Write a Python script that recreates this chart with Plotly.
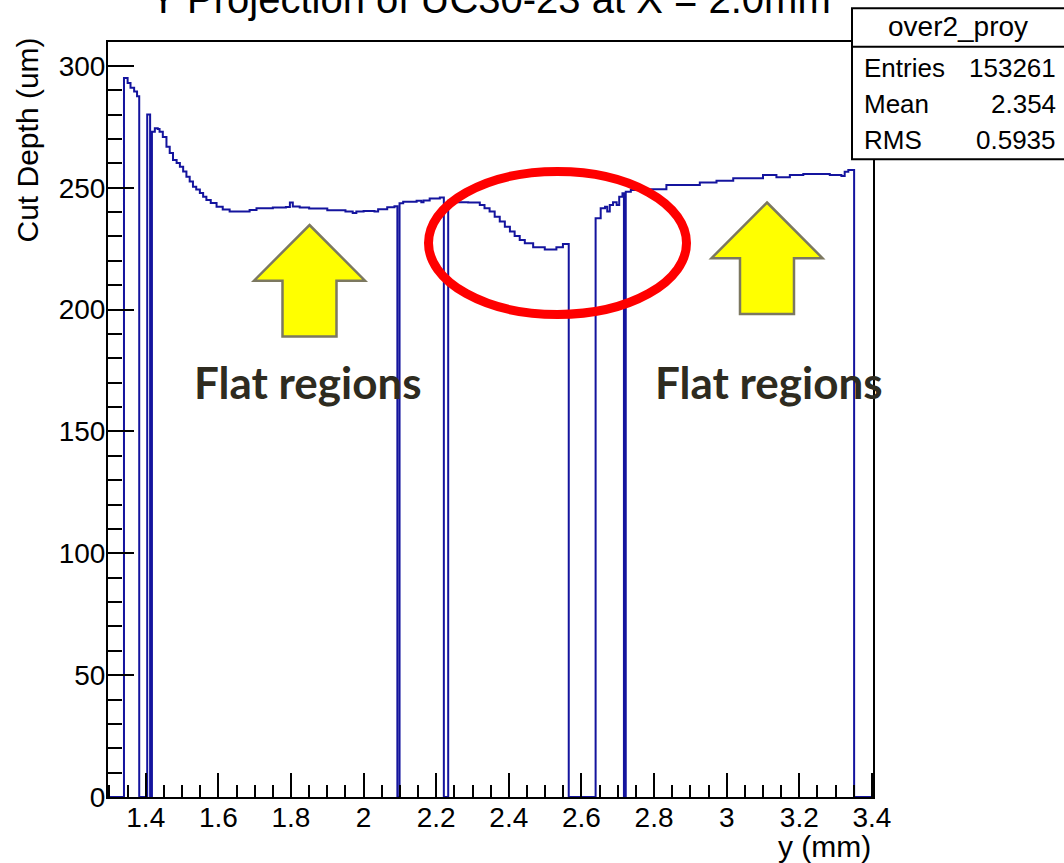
import plotly.graph_objects as go

# ---- data ----
y_mm = [1.296, 1.340, 1.350, 1.358, 1.368, 1.376, 1.382, 1.404, 1.412, 1.417,
        1.425, 1.433, 1.438, 1.447, 1.457, 1.466, 1.475, 1.485, 1.494, 1.503,
        1.512, 1.521, 1.530, 1.539, 1.549, 1.558, 1.567, 1.579, 1.595, 1.612,
        1.631, 1.686, 1.705, 1.750, 1.786, 1.797, 1.805, 1.824, 1.850, 1.900,
        1.950, 1.970, 1.980, 2.000, 2.030, 2.040, 2.065, 2.085, 2.093, 2.099,
        2.109, 2.146, 2.159, 2.165, 2.182, 2.210, 2.221, 2.233, 2.256, 2.288,
        2.320, 2.333, 2.347, 2.361, 2.375, 2.389, 2.403, 2.416, 2.430, 2.444,
        2.467, 2.499, 2.531, 2.549, 2.565, 2.639, 2.653, 2.665, 2.671, 2.678,
        2.687, 2.697, 2.704, 2.713, 2.717, 2.722, 2.736, 2.785, 2.792, 2.834,
        2.880, 2.926, 2.972, 3.018, 3.063, 3.100, 3.137, 3.174, 3.211, 3.248,
        3.284, 3.316, 3.325, 3.335, 3.351, 3.403]
cut_depth_um = [0, 295, 293, 291, 289.5, 287.5, 0, 280, 0, 273,
                274.4, 274.1, 273, 270.8, 266.8, 264.3, 261.4, 260.2, 258.6, 256.7,
                254.5, 252.6, 250.4, 249.3, 247.8, 246.3, 245.0, 243.7, 242.2, 241.1,
                240.2, 240.9, 241.6, 241.9, 242.1, 243.9, 242.3, 241.9, 241.5, 240.8,
                240.2, 239.6, 240.2, 240.5, 240.3, 241.2, 242.0, 242.4, 0, 243.6,
                244.2, 244.7, 244.0, 244.8, 245.6, 246.0, 0, 244.7, 244.0, 243.9,
                242.9, 241.6, 240.2, 238.1, 236.1, 234.0, 232.0, 230.2, 228.6, 227.2,
                225.6, 224.7, 225.6, 226.9, 0, 237.5, 241.6, 242.2, 240.2, 242.9,
                244.0, 242.9, 246.3, 247.7, 0, 248.4, 249.1, 248.4, 249.4, 251.1,
                251.1, 252.1, 252.9, 253.9, 253.9, 255.2, 254.3, 255.2, 255.6, 255.6,
                255.2, 254.8, 256.6, 257.3, 0, 0]

x_tick_vals = [1.4, 1.6, 1.8, 2.0, 2.2, 2.4, 2.6, 2.8, 3.0, 3.2, 3.4]
x_tick_text = ["1.4", "1.6", "1.8", "2", "2.2", "2.4", "2.6", "2.8", "3", "3.2", "3.4"]
y_tick_vals = [0, 50, 100, 150, 200, 250, 300]
y_tick_text = ["0", "50", "100", "150", "200", "250", "300"]

title_text = "Y Projection of UC30-23 at X = 2.0mm"
x_title = "y (mm)"
y_title = "Cut Depth (um)"
stats_name = "over2_proy"
stats_labels = ["Entries", "Mean", "RMS"]
stats_values = ["153261", "2.354", "0.5935"]
note_text = "Flat regions"

# ---- layout geometry (pixels) ----
W, H = 1064, 863
L, R, T, B = 108, 873, 42, 797
FONT = "Liberation Sans, Arial, sans-serif"


def pxx(px):
    return (px - L) / (R - L)


def pxy(py):
    return (B - py) / (B - T)


fig = go.Figure()
fig.add_trace(go.Scatter(
    x=y_mm, y=cut_depth_um, mode="lines", line_shape="hv",
    line=dict(color="#14149e", width=2), hoverinfo="skip", showlegend=False,
))

shapes = []
# red ellipse
shapes.append(dict(type="circle", xref="paper", yref="paper",
                   x0=pxx(428.5), x1=pxx(686.5), y0=pxy(314.5), y1=pxy(171.5),
                   line=dict(color="#ff0000", width=9), layer="above"))


def arrow_path(tipx, tipy, half_head, half_shaft, head_h, total_h):
    pts = [(tipx, tipy), (tipx + half_head, tipy + head_h), (tipx + half_shaft, tipy + head_h),
           (tipx + half_shaft, tipy + total_h), (tipx - half_shaft, tipy + total_h),
           (tipx - half_shaft, tipy + head_h), (tipx - half_head, tipy + head_h)]
    d = "M " + " L ".join(f"{pxx(a):.5f},{pxy(b):.5f}" for a, b in pts) + " Z"
    return d


for tip in [(309.5, 225), (767, 202.5)]:
    shapes.append(dict(type="path", xref="paper", yref="paper",
                       path=arrow_path(tip[0], tip[1], 55.5, 27, 55.7, 111.5),
                       fillcolor="#ffff00", line=dict(color="#7c7860", width=2.5),
                       layer="above"))

# stats box
shapes.append(dict(type="rect", xref="paper", yref="paper",
                   x0=pxx(852), x1=pxx(1080), y0=pxy(159.3), y1=pxy(8.3),
                   fillcolor="white", line=dict(color="black", width=2), layer="above"))
shapes.append(dict(type="line", xref="paper", yref="paper",
                   x0=pxx(852), x1=pxx(1080), y0=pxy(46.7), y1=pxy(46.7),
                   line=dict(color="black", width=2), layer="above"))

ann = []
ann.append(dict(text=title_text, xref="paper", yref="paper", x=pxx(490), y=pxy(-1),
                xanchor="center", yanchor="middle", showarrow=False,
                font=dict(family=FONT, size=40, color="black")))
ann.append(dict(text=x_title, xref="paper", yref="paper", x=pxx(873), y=pxy(846),
                xanchor="right", yanchor="middle", showarrow=False,
                font=dict(family=FONT, size=30, color="black")))
ann.append(dict(text=y_title, xref="paper", yref="paper", x=pxx(27), y=pxy(36),
                xanchor="center", yanchor="top", textangle=-90, showarrow=False,
                font=dict(family=FONT, size=30, color="black")))
ann.append(dict(text=stats_name, xref="paper", yref="paper", x=pxx(958), y=pxy(27),
                xanchor="center", yanchor="middle", showarrow=False,
                font=dict(family=FONT, size=28, color="black")))
for i, (lab, val) in enumerate(zip(stats_labels, stats_values)):
    yy = [68.3, 103.5, 140][i]
    ann.append(dict(text=lab, xref="paper", yref="paper", x=pxx(862), y=pxy(yy),
                    xanchor="left", yanchor="middle", showarrow=False,
                    font=dict(family=FONT, size=26, color="black")))
    ann.append(dict(text=val, xref="paper", yref="paper", x=pxx(1058), y=pxy(yy),
                    xanchor="right", yanchor="middle", showarrow=False,
                    font=dict(family=FONT, size=26, color="black")))
for cx in [308, 768.5]:
    ann.append(dict(text="<b>" + note_text + "</b>", xref="paper", yref="paper",
                    x=pxx(cx), y=pxy(382), xanchor="center", yanchor="middle",
                    showarrow=False,
                    font=dict(family="Lato, Liberation Sans, sans-serif", size=44,
                              color="#2e2b20")))

fig.update_layout(
    width=W, height=H,
    margin=dict(l=L, r=W - R, t=T, b=H - B, pad=0),
    paper_bgcolor="white", plot_bgcolor="white",
    shapes=shapes, annotations=ann, showlegend=False,
    font=dict(family=FONT, size=28, color="black"),
)
fig.update_xaxes(
    range=[1.296, 3.403], showgrid=False, zeroline=False,
    showline=True, linecolor="black", linewidth=2, mirror=True,
    ticks="inside", ticklen=24, tickwidth=1.5, tickcolor="black",
    tickvals=x_tick_vals, ticktext=x_tick_text, ticklabelstandoff=-6,
    tickfont=dict(family=FONT, size=28, color="black"),
    minor=dict(ticks="inside", ticklen=12, dtick=0.05, tick0=0, tickcolor="black", tickwidth=1.5),
)
fig.update_yaxes(
    range=[0, 309.8], showgrid=False, zeroline=False,
    showline=True, linecolor="black", linewidth=2, mirror=True,
    ticks="inside", ticklen=26, tickwidth=1.5, tickcolor="black",
    tickvals=y_tick_vals, ticktext=y_tick_text, ticklabelstandoff=-5,
    tickfont=dict(family=FONT, size=28, color="black"),
    minor=dict(ticks="inside", ticklen=14, dtick=10, tick0=0, tickcolor="black", tickwidth=1.5),
)

fig.write_html("out.html", config={"displayModeBar": False},
               post_script="document.body.style.margin='0px';")
